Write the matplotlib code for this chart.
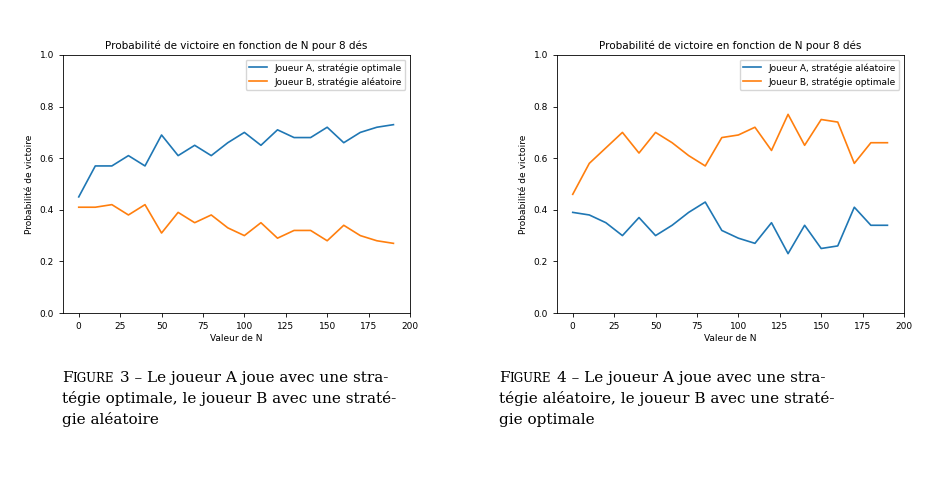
import matplotlib
matplotlib.use('Agg')
import matplotlib.pyplot as plt

N = list(range(0, 200, 10))
fig3_a = [0.45, 0.57, 0.57, 0.61, 0.57, 0.69, 0.61, 0.65, 0.61, 0.66,
          0.70, 0.65, 0.71, 0.68, 0.68, 0.72, 0.66, 0.70, 0.72, 0.73]
fig3_b = [0.41, 0.41, 0.42, 0.38, 0.42, 0.31, 0.39, 0.35, 0.38, 0.33,
          0.30, 0.35, 0.29, 0.32, 0.32, 0.28, 0.34, 0.30, 0.28, 0.27]
fig4_a = [0.39, 0.38, 0.35, 0.30, 0.37, 0.30, 0.34, 0.39, 0.43, 0.32,
          0.29, 0.27, 0.35, 0.23, 0.34, 0.25, 0.26, 0.41, 0.34, 0.34]
fig4_b = [0.46, 0.58, 0.64, 0.70, 0.62, 0.70, 0.66, 0.61, 0.57, 0.68,
          0.69, 0.72, 0.63, 0.77, 0.65, 0.75, 0.74, 0.58, 0.66, 0.66]

W, H = 949, 494
fig = plt.figure(figsize=(W / 100, H / 100), dpi=100)

panels = [
    (63, fig3_a, fig3_b, 'Joueur A, stratégie optimale', 'Joueur B, stratégie aléatoire'),
    (557, fig4_a, fig4_b, 'Joueur A, stratégie aléatoire', 'Joueur B, stratégie optimale'),
]
for left, a, b, la, lb in panels:
    ax = fig.add_axes([left / W, 1 - 313 / H, 347 / W, 258 / H])
    ax.plot(N, a, color='#1f77b4', lw=1.2, label=la)
    ax.plot(N, b, color='#ff7f0e', lw=1.2, label=lb)
    ax.set_ylim(0, 1)
    ax.set_xlim(-9.5, 200)
    ax.set_xticks(range(0, 201, 25))
    ax.set_yticks([0, 0.2, 0.4, 0.6, 0.8, 1.0])
    ax.tick_params(labelsize=6.5, length=3, width=0.6)
    for s in ax.spines.values():
        s.set_linewidth(0.6)
    ax.set_title('Probabilité de victoire en fonction de N pour 8 dés', fontsize=7.5, pad=4)
    ax.set_xlabel('Valeur de N', fontsize=6.5, labelpad=2)
    ax.set_ylabel('Probabilité de victoire', fontsize=6.5, labelpad=4)
    ax.legend(loc='upper right', fontsize=6.5, handlelength=2)

captions = [
    (62, ['Le joueur A joue avec une stra-', 'tégie optimale, le joueur B avec une straté-', 'gie aléatoire'], '3'),
    (499, ['Le joueur A joue avec une stra-', 'tégie aléatoire, le joueur B avec une straté-', 'gie optimale'], '4'),
]
for x, lines, num in captions:
    y0 = 382
    fig.text(x / W, 1 - y0 / H, 'F', family='DejaVu Serif', fontsize=11, va='baseline')
    fig.text((x + 10) / W, 1 - y0 / H, 'IGURE', family='DejaVu Serif', fontsize=8.5, va='baseline')
    fig.text((x + 58) / W, 1 - y0 / H, num + ' – ' + lines[0], family='DejaVu Serif',
             fontsize=11, va='baseline')
    for i, line in enumerate(lines[1:], 1):
        fig.text(x / W, 1 - (y0 + 21 * i) / H, line, family='DejaVu Serif', fontsize=11, va='baseline')

fig.savefig('out.png', dpi=100)
